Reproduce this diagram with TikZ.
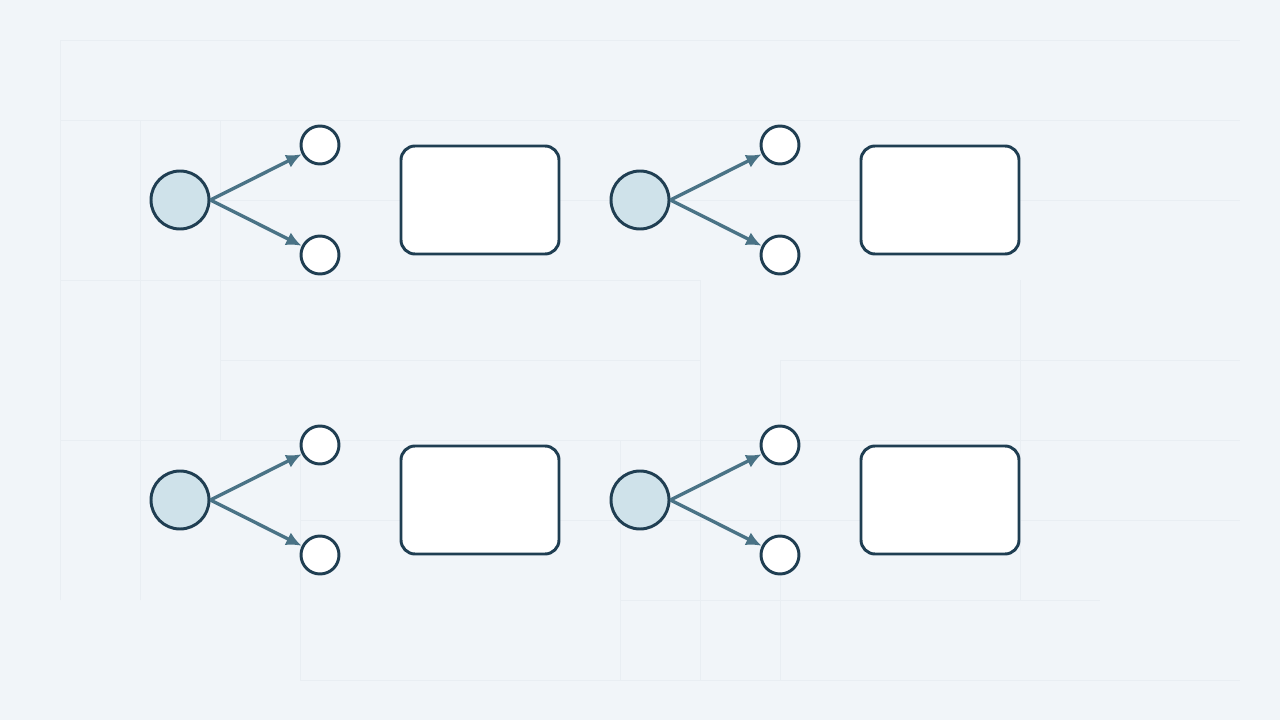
\documentclass[tikz,border=0pt]{standalone}
\usepackage{tikz}
\usetikzlibrary{positioning, arrows.meta}
\definecolor{bgcol}{RGB}{241,245,249}
\definecolor{gridcol}{RGB}{233,238,243}
\definecolor{edgecol}{RGB}{31,62,82}
\definecolor{arrowcol}{RGB}{74,115,134}
\definecolor{rootcol}{RGB}{207,226,234}
\tikzstyle{Arrow} = [
%Create custom arrow style:
line width = 2.4pt, draw = arrowcol,
-{Latex[length=11pt, width=10pt]}
]

\begin{document}
\begin{tikzpicture}[
			root/.style = {circle, line width = 2.1pt, draw = edgecol, fill = rootcol, minimum size = 1.45cm, inner sep = 0pt},
			leaf/.style = {circle, line width = 2.1pt, draw = edgecol, fill = white, minimum size = 0.95cm, inner sep = 0pt},
			panel/.style = {rectangle, rounded corners = 0.35cm, line width = 2.1pt, draw = edgecol, fill = white, minimum width = 3.95cm, minimum height = 2.7cm},
			faint/.style = {draw = gridcol, line width = 0.7pt},
		]
		\fill[bgcol] (0,0) rectangle (32,18);
		\useasboundingbox (0,0) rectangle (32,18);

		% faint background lines
		\draw[faint] (1.5,17)--(31,17);
		\draw[faint] (1.5,15)--(31,15);
		\draw[faint] (5.5,13)--(31,13);
		\draw[faint] (1.5,11)--(17.5,11);
		\draw[faint] (5.5,9)--(17.5,9);
		\draw[faint] (19.5,9)--(31,9);
		\draw[faint] (1.5,7)--(31,7);
		\draw[faint] (7.5,5)--(31,5);
		\draw[faint] (15.5,3)--(27.5,3);
		\draw[faint] (7.5,1)--(31,1);
		\draw[faint] (1.5,3)--(1.5,17);
		\draw[faint] (3.5,3)--(3.5,15);
		\draw[faint] (5.5,7)--(5.5,15);
		\draw[faint] (7.5,1)--(7.5,7);
		\draw[faint] (15.5,1)--(15.5,7);
		\draw[faint] (17.5,1)--(17.5,11);
		\draw[faint] (19.5,1)--(19.5,9);
		\draw[faint] (25.5,3)--(25.5,11);

		\node[root](rootA) at (4.5,13){};
		\node[leaf](upA) at (8,14.375){};
		\node[leaf](downA) at (8,11.625){};
		\node[panel](boxA) at (12,13){};

		\node[root](rootB) at (16,13){};
		\node[leaf](upB) at (19.5,14.375){};
		\node[leaf](downB) at (19.5,11.625){};
		\node[panel](boxB) at (23.5,13){};

		\node[root](rootC) at (4.5,5.5){};
		\node[leaf](upC) at (8,6.875){};
		\node[leaf](downC) at (8,4.125){};
		\node[panel](boxC) at (12,5.5){};

		\node[root](rootD) at (16,5.5){};
		\node[leaf](upD) at (19.5,6.875){};
		\node[leaf](downD) at (19.5,4.125){};
		\node[panel](boxD) at (23.5,5.5){};

		\draw[Arrow](rootA.east)--(upA);
		\draw[Arrow](rootA.east)--(downA);
		\draw[Arrow](rootB.east)--(upB);
		\draw[Arrow](rootB.east)--(downB);
		\draw[Arrow](rootC.east)--(upC);
		\draw[Arrow](rootC.east)--(downC);
		\draw[Arrow](rootD.east)--(upD);
		\draw[Arrow](rootD.east)--(downD);

	\end{tikzpicture}
\end{document}
